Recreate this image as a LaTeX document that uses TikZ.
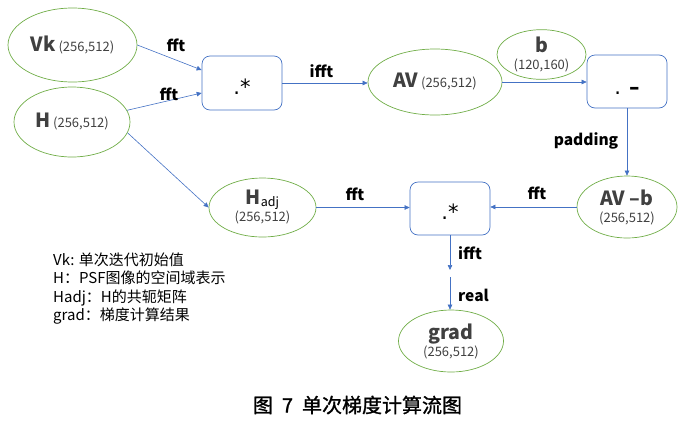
\documentclass[tikz,border=0pt]{standalone}
\usepackage{fontspec}
\setmainfont{Noto Sans CJK SC}
\newfontfamily\opfont{DejaVu Sans}
\newfontfamily\capfont[FakeBold=1.2]{Noto Sans CJK SC}
\usetikzlibrary{shapes.geometric,arrows.meta,calc}
\definecolor{egreen}{HTML}{70AD47}
\definecolor{lblue}{HTML}{4472C4}
\definecolor{numgray}{HTML}{404040}
\newcommand{\bigb}{\bfseries\fontsize{19.5}{22}\selectfont}
\newcommand{\numf}{\mdseries\fontsize{13}{17}\selectfont\color{numgray}}
\begin{document}
\begin{tikzpicture}[x=1pt,y=-1pt,
  ell/.style={ellipse,draw=egreen,line width=0.7pt,inner sep=0pt,align=center,font=\numf},
  opbox/.style={rectangle,rounded corners=8pt,draw=lblue,line width=0.7pt,
    minimum width=80pt,minimum height=54pt,text height=22pt,text depth=0pt,
    font=\opfont\fontsize{21}{21}\selectfont},
  arr/.style={draw=lblue,line width=0.6pt,-{Triangle[length=5pt,width=4.5pt]}},
  lbl/.style={font=\bfseries\fontsize{15.5}{15.5}\selectfont,inner sep=0pt},
]
\useasboundingbox (0,0) rectangle (679,421);

% ellipses
\node[ell,minimum width=129pt,minimum height=74pt] (vk) at (72.5,45) {{\bigb Vk}\ (256,512)};
\node[ell,minimum width=116pt,minimum height=70pt] (h) at (72,122) {{\bigb H}\ (256,512)};
\node[ell,minimum width=134pt,minimum height=66pt] (av) at (435,82) {{\bigb AV}\ (256,512)};
\node[ell,minimum width=89pt,minimum height=45pt] (b) at (541.5,54.5) {{\bigb b}\\(120,160)};
\node[ell,minimum width=100pt,minimum height=62pt] (avb) at (627,207) {{\bigb AV –b}\\(256,512)};
\node[ell,minimum width=107pt,minimum height=59pt] (hadj) at (262.5,207.5)
  {{\bigb H}{\color{black}\fontsize{12.5}{14}\selectfont\raisebox{-2pt}{adj}}\\(256,512)};
\node[ell,minimum width=105pt,minimum height=62pt] (grad) at (451,341) {{\bigb grad}\\(256,512)};

% operation boxes
\node[opbox] (m1) at (242,83) {.*};
\node[opbox,minimum height=53pt,text height=25pt] (sub) at (627,81.5) {.\hspace{0.38em}{\bfseries –}};
\node[opbox,minimum height=53pt] (m2) at (450,208.5) {.*};

% break in the vertical connector
\coordinate (c1) at (450,270);
\coordinate (c2) at (450,277);

% connectors
\draw[arr] (vk.east) -- ($(m1.west)+(0,-13)$);
\draw[arr] (h.12) -- ($(m1.west)+(0,10)$);
\draw[arr] (h.-11) -- (hadj.west);
\draw[arr] (m1.east) -- (m1.east -| av.west);
\draw[arr] (av.east) -- (av.east -| sub.west);
\draw[arr] (sub.south) -- (sub.south |- avb.north);
\draw[arr] (avb.west) -- (avb.west -| m2.east);
\draw[arr] (hadj.east) -- (hadj.east -| m2.west);
\draw[arr] (m2.south) -- (c1);
\draw[arr] (c2) -- (c2 |- grad.north);

% connector labels
\node[lbl] (l1) at (176,45.5) {fft};
\node[lbl] (l2) at (169,94) {fft};
\node[lbl] (l3) at (321.5,71.5) {ifft};
\node[lbl] (l4) at (586,140.5) {padding};
\node[lbl] (l5) at (537,193.5) {fft};
\node[lbl] (l6) at (355,194.5) {fft};
\node[lbl,anchor=west] (l7) at (458,253) {ifft};
\node[lbl,anchor=west] (l8) at (458,295.5) {real};

% legend
\node[anchor=west,align=left,inner sep=0pt,font=\fontsize{15}{18.5}\selectfont] (legend) at (53,288.5)
  {Vk: 单次迭代初始值\\H：PSF图像的空间域表示\\Hadj：H的共轭矩阵\\grad：梯度计算结果};

% caption
\node[font=\capfont\fontsize{20}{22}\selectfont] (cap) at (357.5,405) {图\hspace{0.45em}7\hspace{0.45em}单次梯度计算流图};
\end{tikzpicture}
\end{document}
